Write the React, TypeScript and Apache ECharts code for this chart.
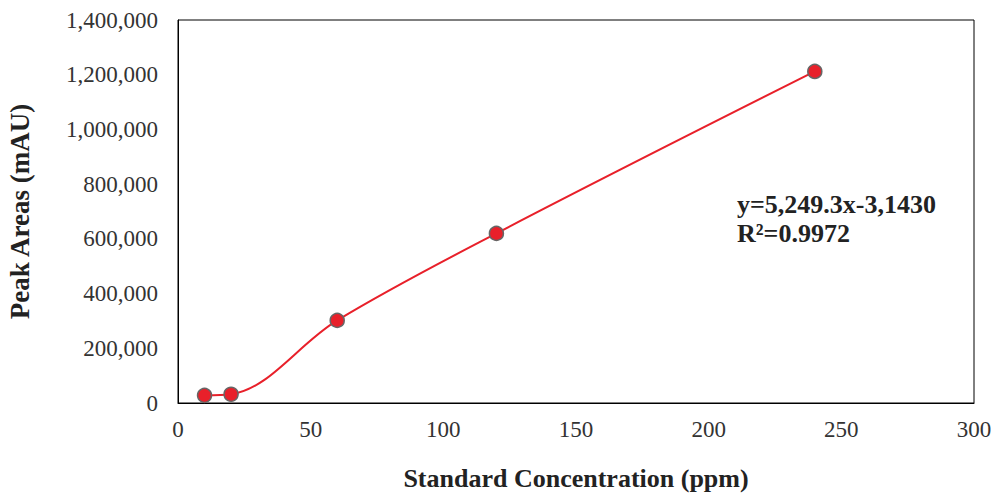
import React, { useEffect, useRef } from "react";
import * as echarts from "echarts";

const concentrations = [10, 20, 60, 120, 240];
const peakAreas = [28000, 32000, 302000, 620000, 1212000];
const equationText = "y=5,249.3x-3,1430";
const r2Text = "R²=0.9972";
const xTitle = "Standard Concentration (ppm)";
const yTitle = "Peak Areas (mAU)";

const FONT = "'Liberation Serif', 'Times New Roman', serif";

export default function App() {
  const ref = useRef<HTMLDivElement>(null);
  useEffect(() => {
    if (!ref.current) return;
    const chart = echarts.init(ref.current, null, { renderer: "svg" });
    chart.setOption({
      animation: false,
      backgroundColor: "#fff",
      grid: {
        left: 178,
        right: 19,
        top: 20,
        bottom: 90,
        show: true,
        borderColor: "#000",
        borderWidth: 1,
        containLabel: false,
        outerBoundsMode: "none",
      },
      xAxis: {
        type: "value",
        min: 0,
        max: 300,
        interval: 50,
        name: xTitle,
        nameLocation: "middle",
        nameGap: 62,
        nameTextStyle: { fontFamily: FONT, fontSize: 26, fontWeight: "bold", color: "#222" },
        axisLine: { show: true, lineStyle: { color: "#000", width: 1 } },
        axisTick: { show: false },
        splitLine: { show: false },
        axisLabel: { fontFamily: FONT, fontSize: 23, color: "#333", margin: 15 },
      },
      yAxis: {
        type: "value",
        min: 0,
        max: 1400000,
        interval: 200000,
        name: yTitle,
        nameLocation: "middle",
        nameGap: 145,
        nameTextStyle: { fontFamily: FONT, fontSize: 27, fontWeight: "bold", color: "#222" },
        axisLine: { show: true, lineStyle: { color: "#000", width: 1 } },
        axisTick: { show: false },
        splitLine: { show: false },
        axisLabel: {
          fontFamily: FONT,
          fontSize: 23,
          color: "#333",
          margin: 20,
          formatter: (v: number) => v.toLocaleString("en-US"),
        },
      },
      series: [
        {
          type: "line",
          data: concentrations.map((c, i) => [c, peakAreas[i]]),
          smooth: 0.35,
          symbol: "circle",
          symbolSize: 14,
          lineStyle: { color: "#e8202a", width: 2 },
          itemStyle: { color: "#e8202a", borderColor: "#666", borderWidth: 1.5 },
        },
      ],
      graphic: [
        {
          type: "text",
          left: 737,
          top: 190,
          style: {
            text: equationText + "\n" + r2Text,
            fontFamily: FONT,
            fontSize: 26,
            fontWeight: "bold",
            fill: "#222",
            lineHeight: 29,
          },
        },
      ],
    });
    return () => chart.dispose();
  }, []);
  return (
    <div
      ref={ref}
      style={{ position: "fixed", left: 0, top: 0, width: 993, height: 493 }}
    />
  );
}
